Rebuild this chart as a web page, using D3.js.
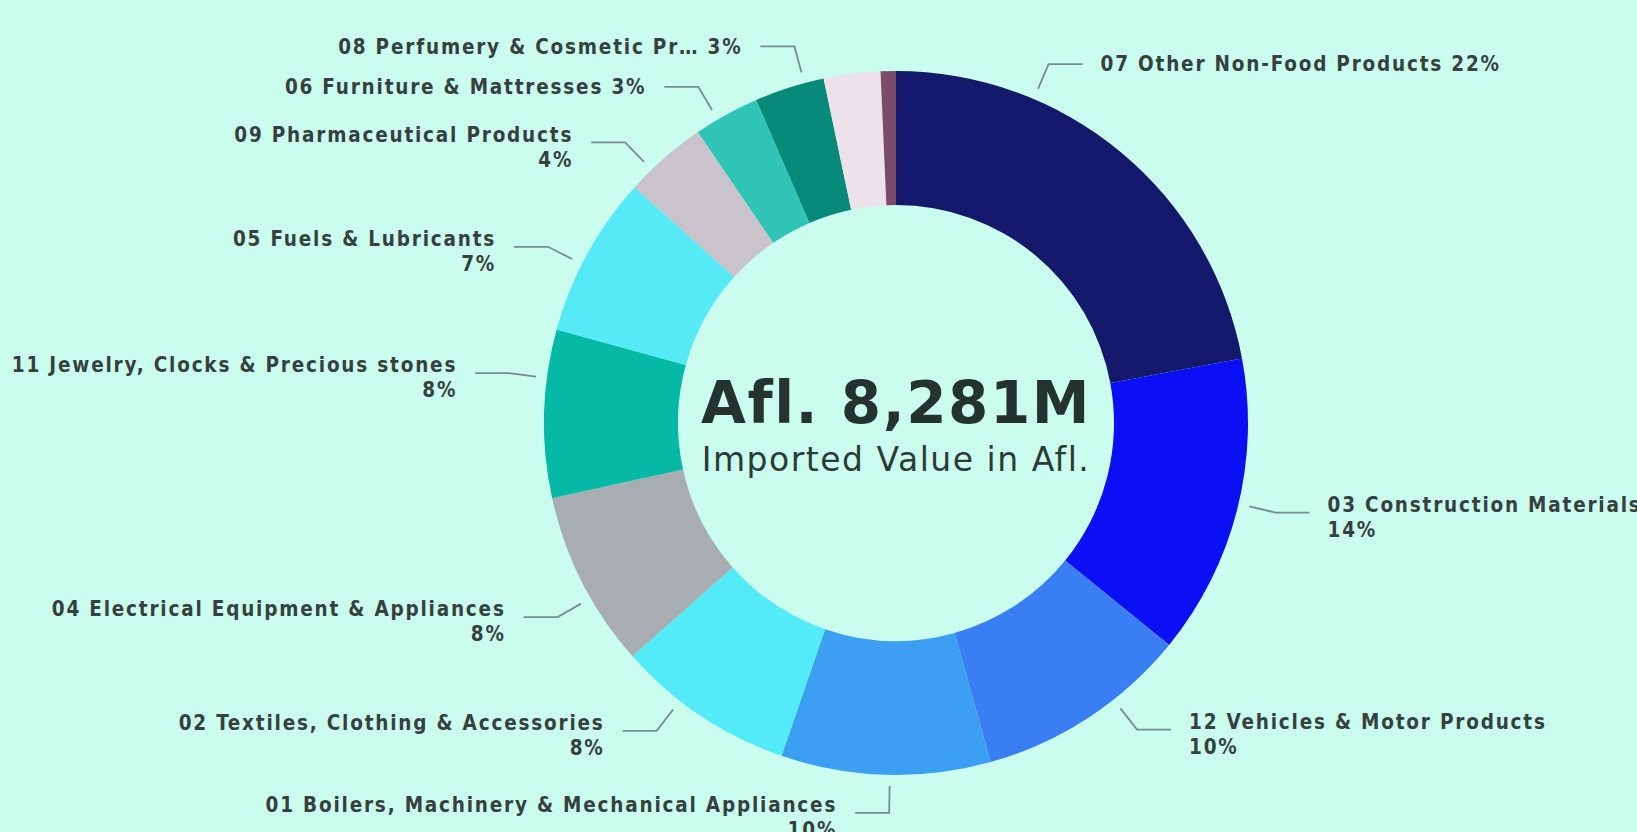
<!DOCTYPE html>
<html>
<head>
<meta charset="utf-8">
<script src="https://cdnjs.cloudflare.com/ajax/libs/d3/7.8.5/d3.min.js"></script>
<style>
  html, body { margin: 0; padding: 0; background: #cbfdee; overflow: hidden; }
  #chart { width: 1637px; height: 832px; }
  .lbl { font-family: "DejaVu Sans Condensed", "DejaVu Sans", sans-serif; font-weight: bold; font-size: 20.5px; letter-spacing: 1.8px; fill: #36413f; }
  .leader { fill: none; stroke: #768e8a; stroke-width: 1.8; }
  .total { font-family: "DejaVu Sans", sans-serif; fill: #243230; }
</style>
</head>
<body>
<div id="chart"></div>
<script>
'use strict';

// imported value by product group, Afl. millions
var categories = [
  '07 Other Non-Food Products',
  '03 Construction Materials',
  '12 Vehicles & Motor Products',
  '01 Boilers, Machinery & Mechanical Appliances',
  '02 Textiles, Clothing & Accessories',
  '04 Electrical Equipment & Appliances',
  '11 Jewelry, Clocks & Precious stones',
  '05 Fuels & Lubricants',
  '09 Pharmaceutical Products',
  '06 Furniture & Mattresses',
  '08 Perfumery & Cosmetic Products',
  'Other (unlabelled)',
  'Other small (unlabelled)'
];
var values = [1827, 1143, 812, 795, 679, 671, 638, 613, 315, 250, 265, 215, 58];
var colors = ['#14196b', '#0b0ff4', '#3a7ef3', '#3d9ff3', '#53ebf7', '#a8adb1', '#06b9a7',
              '#56e9f6', '#c9c4cb', '#2fc4b6', '#078a79', '#ede2ea', '#7b4b69'];
// label wraps the percentage onto a second line
var wrapLabel = [false, true, true, true, true, true, true, true, true, false, false, false, false];
// where along its slice each leader line starts (0 = slice start, 1 = slice end)
var anchorAt = [0.29, 0.48, 0.36, 0.48, 0.64, 0.40, 0.71, 0.43, 0.29, 0.35, 0.72, 0.5, 0.5];

var totalText = 'Afl. 8,281M';
var subText = 'Imported Value in Afl.';

var width = 1637, height = 832;
var cx = 896, cy = 423;
var outerR = 352, innerR = 218;

var total = d3.sum(values);
var pct = d3.format('.0%');

var svg = d3.select('#chart')
  .append('svg')
  .attr('width', width)
  .attr('height', height);

var g = svg.append('g')
  .attr('transform', 'translate(' + cx + ',' + cy + ')');

var data = categories.map(function(c, i) {
  return { name: c, value: values[i], color: colors[i], wrap: wrapLabel[i], at: anchorAt[i] };
});

var pie = d3.pie().sort(null).value(function(d) { return d.value; });
var arc = d3.arc().innerRadius(innerR).outerRadius(outerR);

var slices = pie(data);

g.selectAll('path.slice')
  .data(slices)
  .enter()
  .append('path')
  .attr('class', 'slice')
  .attr('d', arc)
  .attr('fill', function(d) { return d.data.color; });

// labels only for slices of about 3% or more
var labelled = slices.filter(function(d) { return d.data.value / total >= 0.028; });

function polar(a, r) { return [Math.sin(a) * r, -Math.cos(a) * r]; }

labelled.forEach(function(d) {
  var a = d.startAngle + (d.endAngle - d.startAngle) * d.data.at;
  d.side = Math.sin(a) >= 0 ? 1 : -1;
  d.p0 = polar(a, outerR + 11);
  d.p1 = polar(a, outerR + 38);
  d.p2 = [d.p1[0] + d.side * 34, d.p1[1]];
  var share = pct(d.data.value / total);
  var name = d.data.name;
  if (!d.data.wrap && name.length > 28) name = name.slice(0, 26) + '\u2026';
  d.lines = d.data.wrap ? [name, share] : [name + ' ' + share];
});

g.selectAll('path.leader')
  .data(labelled)
  .enter()
  .append('path')
  .attr('class', 'leader')
  .attr('d', function(d) { return d3.line()([d.p0, d.p1, d.p2]); });

var lineH = 25;
var texts = g.selectAll('text.lbl')
  .data(labelled)
  .enter()
  .append('text')
  .attr('class', 'lbl')
  .attr('text-anchor', function(d) { return d.side > 0 ? 'start' : 'end'; })
  .attr('transform', function(d) {
    var y0 = d.lines.length > 1 ? d.p2[1] - 8 : d.p2[1];
    return 'translate(' + (d.p2[0] + d.side * 18) + ',' + y0 + ')';
  });

texts.selectAll('tspan')
  .data(function(d) { return d.lines; })
  .enter()
  .append('tspan')
  .attr('x', 0)
  .attr('dy', function(t, i) { return i === 0 ? '0.35em' : lineH; })
  .text(function(t) { return t; });

g.append('text')
  .attr('class', 'total')
  .attr('text-anchor', 'middle')
  .attr('y', 0)
  .style('font-size', '58px')
  .style('font-weight', 'bold')
  .style('letter-spacing', '1.5px')
  .text(totalText);

g.append('text')
  .attr('class', 'total')
  .attr('text-anchor', 'middle')
  .attr('y', 48)
  .style('font-size', '33px')
  .style('letter-spacing', '1.5px')
  .style('fill', '#2c3a38')
  .text(subText);
</script>
</body>
</html>
